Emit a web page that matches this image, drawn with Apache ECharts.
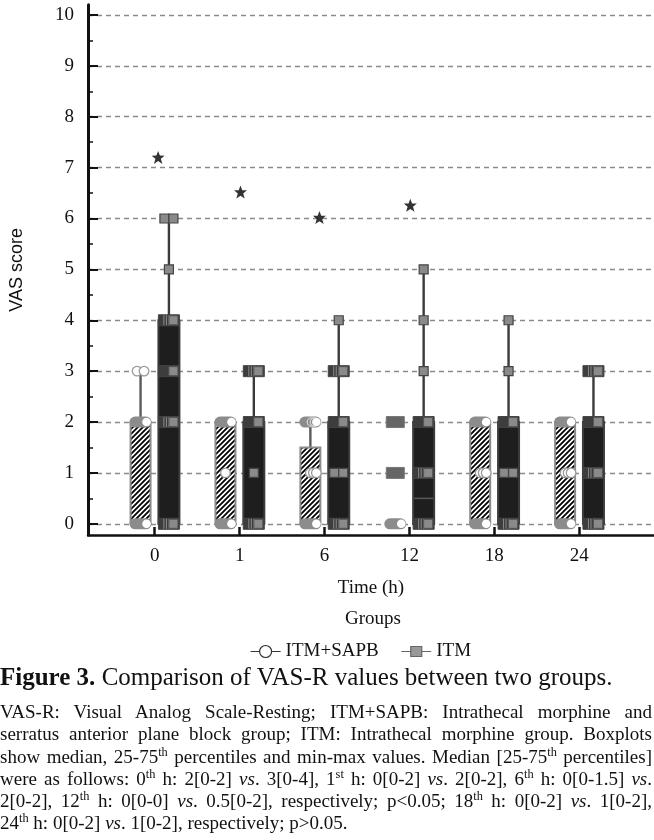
<!DOCTYPE html>
<html><head><meta charset="utf-8">
<script src="https://cdn.jsdelivr.net/npm/echarts@6/dist/echarts.min.js"></script>
<style>
html,body{margin:0;padding:0;background:#fff;}
#chart{position:absolute;left:0;top:0;width:654px;height:840px;}
#cap{position:absolute;left:0;top:661px;width:652px;font-family:"Liberation Serif",serif;color:#111;}
#cap .t{font-size:25px;line-height:32px;white-space:nowrap;}
#cap .d{margin-top:8px;font-size:19px;line-height:22.3px;}
#cap .d div{text-align:justify;text-align-last:justify;}
#cap .d div.last{text-align-last:left;}
sup{font-size:65%;line-height:0;vertical-align:super;}
</style></head>
<body>
<div id="chart"></div>
<div id="cap">
<div class="t"><b>Figure 3.</b> Comparison of VAS-R values between two groups.</div>
<div class="d">
<div>VAS-R: Visual Analog Scale-Resting; ITM+SAPB: Intrathecal morphine and</div>
<div>serratus anterior plane block group; ITM: Intrathecal morphine group. Boxplots</div>
<div>show median, 25-75<sup>th</sup> percentiles and min-max values. Median [25-75<sup>th</sup> percentiles]</div>
<div>were as follows: 0<sup>th</sup> h: 2[0-2] <i>vs</i>. 3[0-4], 1<sup>st</sup> h: 0[0-2] <i>vs</i>. 2[0-2], 6<sup>th</sup> h: 0[0-1.5] <i>vs</i>.</div>
<div>2[0-2], 12<sup>th</sup> h: 0[0-0] <i>vs</i>. 0.5[0-2], respectively; p&lt;0.05; 18<sup>th</sup> h: 0[0-2] <i>vs</i>. 1[0-2],</div>
<div class="last">24<sup>th</sup> h: 0[0-2] <i>vs</i>. 1[0-2], respectively; p&gt;0.05.</div>
</div>
</div>
<script>
// ---------- data ----------
const categories = ['0', '1', '6', '12', '18', '24'];
const categoryIdx = [0, 1, 2, 3, 4, 5];
const yTicks = [0, 1, 2, 3, 4, 5, 6, 7, 8, 9, 10];
const yMinorTicks = [0.5, 1.5, 2.5, 3.5, 4.5, 5.5, 6.5, 7.5, 8.5, 9.5];
// [category index, min, Q1, median, Q3, max]
const sapbBox = [[0, 0, 0, 2, 2, 3], [1, 0, 0, 0, 2, 2], [2, 0, 0, 0, 1.5, 2], [3, 0, 0, 0, 0, 0], [4, 0, 0, 0, 2, 2], [5, 0, 0, 0, 2, 2]];
const itmBox = [[0, 0, 0, 3, 4, 6], [1, 0, 0, 2, 2, 3], [2, 0, 0, 2, 2, 4], [3, 0, 0, 0.5, 2, 5], [4, 0, 0, 1, 2, 4], [5, 0, 0, 1, 2, 3]];
// individual observations: [category index, value, estimated count]
const sapbPoints = [
  [0, 3, 2], [0, 2, 8], [0, 0, 10],
  [1, 2, 8], [1, 1, 1], [1, 0, 12],
  [2, 2, 4], [2, 1, 3], [2, 0, 12],
  [3, 0, 16],
  [4, 2, 8], [4, 1, 3], [4, 0, 8],
  [5, 2, 8], [5, 1, 3], [5, 0, 8]
];
const sapbOutliers = [[3, 2], [3, 1]];
const itmPoints = [
  [0, 6, 2], [0, 5, 1], [0, 4, 6], [0, 3, 3], [0, 2, 6], [0, 0, 6],
  [1, 3, 6], [1, 2, 4], [1, 1, 1], [1, 0, 8],
  [2, 4, 1], [2, 3, 6], [2, 2, 4], [2, 1, 2], [2, 0, 8],
  [3, 5, 1], [3, 4, 1], [3, 3, 1], [3, 2, 4], [3, 1, 6], [3, 0, 8],
  [4, 4, 1], [4, 3, 1], [4, 2, 4], [4, 1, 2], [4, 0, 8],
  [5, 3, 6], [5, 2, 4], [5, 1, 6], [5, 0, 8]
];
// significance asterisks [x position, y]
const sigMarks = [[0.04, 7.2], [1.01, 6.52], [1.94, 6.02], [3.01, 6.26]];

// ---------- styling ----------
const OFFSET = 0.167;
const SAPB_W = 20, ITM_W = 21;
const SERIF = 'Liberation Serif';

function makeHatch() {
  const s = 5, cv = document.createElement('canvas');
  cv.width = s; cv.height = s;
  const ctx = cv.getContext('2d');
  ctx.fillStyle = '#fff'; ctx.fillRect(0, 0, s, s);
  ctx.strokeStyle = '#000'; ctx.lineWidth = 1.8;
  ctx.beginPath();
  ctx.moveTo(0, s); ctx.lineTo(s, 0);
  ctx.moveTo(-1, 1); ctx.lineTo(1, -1);
  ctx.moveTo(s - 1, s + 1); ctx.lineTo(s + 1, s - 1);
  ctx.stroke();
  return cv;
}
const hatch = { image: makeHatch(), repeat: 'repeat' };

function boxRenderer(off, w, boxStyle, whiskerColor, medianColor) {
  return function (params, api) {
    const c = api.value(0), mn = api.value(1), q1 = api.value(2), md = api.value(3), q3 = api.value(4), mx = api.value(5);
    const pMax = api.coord([c + off, mx]), pQ3 = api.coord([c + off, q3]);
    const pQ1 = api.coord([c + off, q1]), pMin = api.coord([c + off, mn]), pMd = api.coord([c + off, md]);
    const kids = [];
    if (mx > q3) kids.push({ type: 'line', shape: { x1: pQ3[0], y1: pQ3[1], x2: pMax[0], y2: pMax[1] }, style: { stroke: whiskerColor, lineWidth: 2.4 } });
    if (q1 > mn) kids.push({ type: 'line', shape: { x1: pQ1[0], y1: pQ1[1], x2: pMin[0], y2: pMin[1] }, style: { stroke: whiskerColor, lineWidth: 2.4 } });
    if (q3 > q1) {
      kids.push({ type: 'rect', shape: { x: pQ3[0] - w / 2, y: pQ3[1], width: w, height: pQ1[1] - pQ3[1] }, style: boxStyle });
      if (md > q1 && md < q3) kids.push({ type: 'line', shape: { x1: pMd[0] - w / 2 + 1, y1: pMd[1], x2: pMd[0] + w / 2 - 1, y2: pMd[1] }, style: { stroke: medianColor, lineWidth: 1.5 } });
    }
    return { type: 'group', children: kids };
  };
}

function sapbPointRenderer(params, api) {
  const c = api.value(0), v = api.value(1), n = api.value(2);
  const p = api.coord([c - OFFSET, v]);
  const w = SAPB_W, kids = [];
  if (n >= 4) {
    kids.push({ type: 'rect', shape: { x: p[0] - w / 2 - 1, y: p[1] - 5.5, width: w + 2, height: 11, r: 5.5 }, style: { fill: '#8c8c8c' } });
    if (n < 6) {
      for (let i = 0; i < 2; i++) kids.push({ type: 'circle', shape: { cx: p[0] + 1 + i * 3, cy: p[1], r: 4.2 }, style: { fill: '#8c8c8c', stroke: '#eee', lineWidth: 1 } });
    }
    kids.push({ type: 'circle', shape: { cx: p[0] + w / 2 - 4, cy: p[1], r: 4.3 }, style: { fill: '#fff' } });
  } else {
    const sp = n <= 2 ? 7 : 3;
    const base = n <= 2 ? p[0] : p[0] + 3;
    for (let i = 0; i < n; i++) {
      kids.push({ type: 'circle', shape: { cx: base + (i - (n - 1) / 2) * sp, cy: p[1], r: 4.8 }, style: { fill: '#fff', stroke: '#9a9a9a', lineWidth: 1.3 } });
    }
  }
  return { type: 'group', children: kids };
}

function sapbOutlierRenderer(params, api) {
  const p = api.coord([api.value(0) - OFFSET, api.value(1)]);
  const w = SAPB_W - 2;
  return { type: 'rect', shape: { x: p[0] - w / 2, y: p[1] - 5.5, width: w, height: 11 }, style: { fill: '#666', stroke: '#777', lineWidth: 1 } };
}

function itmPointRenderer(params, api) {
  const c = api.value(0), v = api.value(1), n = api.value(2);
  const p = api.coord([c + OFFSET, v]);
  const w = ITM_W, sq = 9, kids = [];
  if (n >= 3) {
    kids.push({ type: 'rect', shape: { x: p[0] - w / 2, y: p[1] - 5.5, width: w, height: 11 }, style: { fill: '#3d3d3d', stroke: '#444', lineWidth: 1 } });
    if (n >= 5) {
      [-5, -2.5, 0].forEach(function (k) {
        kids.push({ type: 'line', shape: { x1: p[0] + k, y1: p[1] - 5, x2: p[0] + k, y2: p[1] + 5 }, style: { stroke: '#8a8a8a', lineWidth: 1 } });
      });
    }
    kids.push({ type: 'rect', shape: { x: p[0] + w / 2 - sq - 1.5, y: p[1] - sq / 2, width: sq, height: sq }, style: { fill: '#8a8a8a', stroke: '#555', lineWidth: 1 } });
  } else {
    for (let i = 0; i < n; i++) {
      const cx = p[0] + (i - (n - 1) / 2) * sq;
      kids.push({ type: 'rect', shape: { x: cx - sq / 2, y: p[1] - sq / 2, width: sq, height: sq }, style: { fill: '#8a8a8a', stroke: '#444', lineWidth: 1.2 } });
    }
  }
  return { type: 'group', children: kids };
}

const chart = echarts.init(document.getElementById('chart'));
chart.setOption({
  animation: false,
  backgroundColor: '#fff',
  grid: { left: 86, right: 0, top: 4.8, bottom: 305 },
  title: {
    text: 'Groups', left: 368, top: 605, textAlign: 'center',
    textStyle: { fontFamily: SERIF, fontSize: 19, fontWeight: 'normal', color: '#111' }
  },
  legend: {
    left: 245, top: 637, itemWidth: 30, itemHeight: 13, itemGap: 22,
    textStyle: { fontFamily: SERIF, fontSize: 19, color: '#111' },
    data: [
      { name: 'ITM+SAPB', icon: 'path://M0,6.5H9M9,6.5A6,6,0,1,0,21,6.5A6,6,0,1,0,9,6.5ZM21,6.5H30', itemStyle: { color: '#fff', borderColor: '#333', borderWidth: 1.2 } },
      { name: 'ITM', icon: 'path://M0,6.5H9.5M9.5,1.5H20.5V11.5H9.5ZM20.5,6.5H30', itemStyle: { color: '#999', borderColor: '#666', borderWidth: 1.2 } }
    ]
  },
  xAxis: {
    type: 'value', min: -0.786, max: 5.88,
    name: 'Time (h)', nameLocation: 'middle', nameGap: 44,
    nameTextStyle: { fontFamily: SERIF, fontSize: 19, color: '#111' },
    axisLine: { show: true, onZero: false, lineStyle: { color: '#111', width: 2.5 } },
    axisTick: { show: true, inside: true, length: 8, customValues: categoryIdx, lineStyle: { color: '#111', width: 2.5 } },
    axisLabel: { customValues: categoryIdx, margin: 12, formatter: function (v) { return categories[Math.round(v)]; }, fontFamily: SERIF, fontSize: 19, color: '#111' },
    splitLine: { show: false }
  },
  yAxis: [{
    type: 'value', min: -0.22, max: 10.2,
    name: 'VAS score', nameLocation: 'middle', nameGap: 62,
    nameTextStyle: { fontFamily: 'Liberation Sans', fontSize: 18, color: '#111' },
    axisLine: { show: true, onZero: false, lineStyle: { color: '#111', width: 3 } },
    axisTick: { show: true, inside: true, length: 10, customValues: yTicks, lineStyle: { color: '#111', width: 2 } },
    axisLabel: { customValues: yTicks, margin: 14, fontFamily: SERIF, fontSize: 19, color: '#111' },
    splitLine: { show: true, lineStyle: { color: '#8a8a8a', width: 1.4, type: [5, 4] } }
  }, {
    type: 'value', min: -0.22, max: 10.2, position: 'left',
    axisLine: { show: false, onZero: false },
    axisTick: { show: true, inside: true, length: 5, customValues: yMinorTicks, lineStyle: { color: '#111', width: 1.5 } },
    axisLabel: { show: false },
    splitLine: { show: false }
  }],
  series: [
    {
      name: 'ITM+SAPB', type: 'custom', data: sapbBox, encode: { x: 0, y: [1, 2, 3, 4, 5] },
      itemStyle: { color: '#fff' },
      renderItem: boxRenderer(-OFFSET, SAPB_W, { fill: hatch, stroke: '#8c8c8c', lineWidth: 2 }, '#5a5a5a', '#555')
    },
    {
      name: 'ITM', type: 'custom', data: itmBox, encode: { x: 0, y: [1, 2, 3, 4, 5] },
      itemStyle: { color: '#999' },
      renderItem: boxRenderer(OFFSET, ITM_W, { fill: '#1e1e1e', stroke: '#3c3c3c', lineWidth: 2 }, '#3a3a3a', '#5a5a5a')
    },
    { name: 'ITM+SAPB points', type: 'custom', data: sapbPoints, encode: { x: 0, y: 1 }, renderItem: sapbPointRenderer },
    { name: 'ITM+SAPB outliers', type: 'custom', data: sapbOutliers, encode: { x: 0, y: 1 }, renderItem: sapbOutlierRenderer },
    { name: 'ITM points', type: 'custom', data: itmPoints, encode: { x: 0, y: 1 }, renderItem: itmPointRenderer },
    {
      name: 'significance', type: 'scatter', data: sigMarks, symbolSize: 13,
      symbol: 'path://M50,0L63,33L98,34L70,56L81,92L50,72L19,92L30,56L2,34L37,33Z',
      itemStyle: { color: '#000' }
    }
  ]
});
</script>
</body></html>
